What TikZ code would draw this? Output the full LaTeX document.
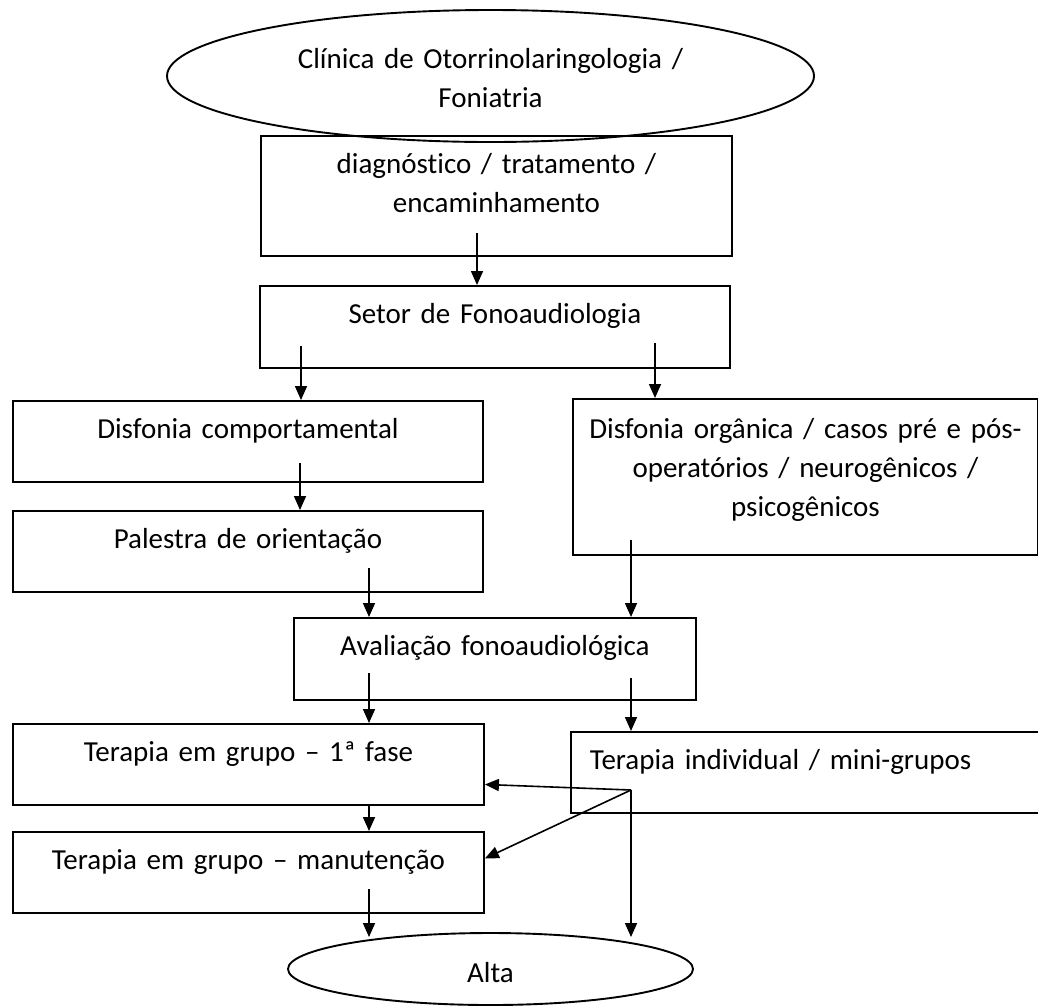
\documentclass[tikz,border=0pt]{standalone}
\usepackage{fontspec}
\setmainfont{Carlito}[Ligatures=NoCommon]
\usetikzlibrary{shapes.geometric,arrows.meta}

\begin{document}
\begin{tikzpicture}[x=1pt,y=-1pt,
    font=\fontsize{29}{39}\selectfont,
    box/.style={rectangle, draw, line width=1.9pt, inner sep=0pt, anchor=north west, align=center, text height=38pt},
    oval/.style={ellipse, draw, line width=1.9pt, inner sep=0pt, align=center},
    arr/.style={line width=1.6pt, -{Triangle[length=14pt,width=12pt]}}]
    \useasboundingbox (0,0) rectangle (1038,1005);
    \node[oval, minimum width=647pt, minimum height=132pt, text width=400pt, text height=20pt, text depth=36pt] (clinica) at (490.5,76) {Clínica de Otorrinolaringologia /\\Foniatria};
    \node[box, text width=471pt, text depth=82pt] (diag) at (260,135) {diagnóstico / tratamento /\\encaminhamento};
    \node[box, text width=470pt, text depth=44pt] (setor) at (259,285) {Setor de Fonoaudiologia};
    \node[box, text width=470pt, text depth=43pt] (comport) at (12,400) {Disfonia comportamental};
    \node[box, text width=470pt, text depth=43pt] (palestra) at (12,510) {Palestra de orientação};
    \node[box, text width=465pt, text height=40pt, text depth=116pt] (organica) at (572,398) {Disfonia orgânica / casos pré e pós-\\operatórios / neurogênicos /\\psicogênicos};
    \node[box, text width=402pt, text depth=44pt] (avaliacao) at (293,617) {Avaliação fonoaudiológica};
    \node[box, text width=471pt, text depth=43pt] (grupo) at (12,723) {Terapia em grupo – 1ª fase};
    \node[box, align=left, inner xsep=19pt, text width=430pt, text depth=43pt] (individual) at (570,731) {Terapia individual / mini-grupos};
    \node[box, text width=471pt, text depth=43pt] (manut) at (12,831) {Terapia em grupo – manutenção};
    \node[oval, minimum width=405pt, minimum height=72pt, text height=26pt, text depth=0pt] (alta) at (490.5,969) {Alta};

    \coordinate (diag-out) at (477,233);
    \coordinate (setor-esq) at (301,346);
    \coordinate (setor-dir) at (655,343);
    \coordinate (comport-out) at (300,463);
    \coordinate (palestra-out) at (369,568);
    \coordinate (organica-out) at (631,540);
    \coordinate (aval-esq) at (369,673);
    \coordinate (aval-dir) at (631,678);
    \coordinate (grupo-out) at (369,804);
    \coordinate (manut-out) at (369,889);
    \coordinate (indiv-out) at (631,790);

    \draw[arr] (diag-out) -- (diag-out |- setor.north);
    \draw[arr] (setor-esq) -- (setor-esq |- comport.north);
    \draw[arr] (setor-dir) -- (setor-dir |- organica.north);
    \draw[arr] (comport-out) -- (comport-out |- palestra.north);
    \draw[arr] (palestra-out) -- (palestra-out |- avaliacao.north);
    \draw[arr] (organica-out) -- (organica-out |- avaliacao.north);
    \draw[arr] (aval-esq) -- (aval-esq |- grupo.north);
    \draw[arr] (aval-dir) -- (aval-dir |- individual.north);
    \draw[arr] (grupo-out) -- (grupo-out |- manut.north);
    \draw[arr, shorten >=-5pt] (manut-out) -- (manut-out |- alta.north);
    \draw[arr] (indiv-out) -- ([yshift=-20pt]grupo.east);
    \draw[arr] (indiv-out) -- ([yshift=14pt]manut.east);
    \draw[arr, shorten >=-5pt] (indiv-out) -- (indiv-out |- alta.north);
\end{tikzpicture}
\end{document}
